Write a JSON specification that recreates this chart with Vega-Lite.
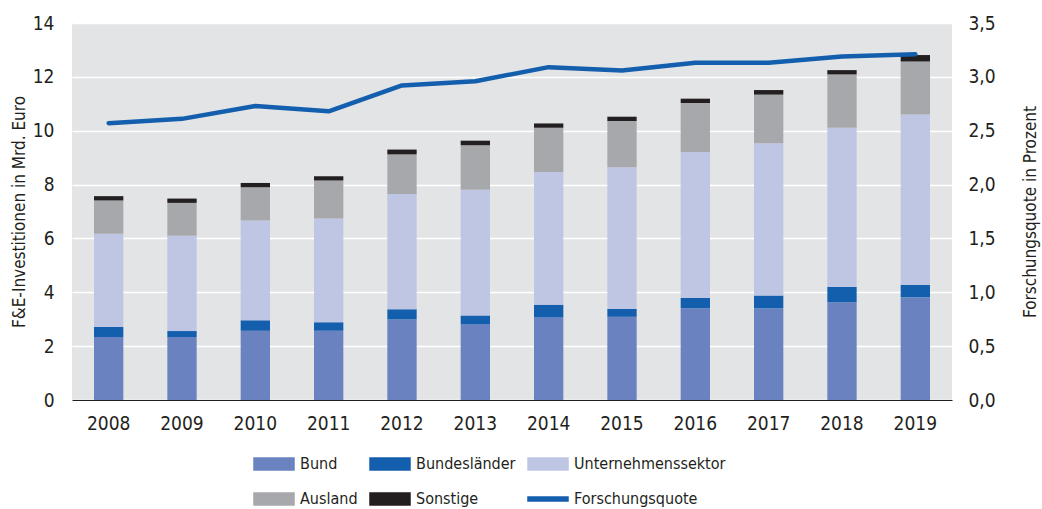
{
  "$schema": "https://vega.github.io/schema/vega-lite/v6.json",
  "autosize": {"type": "none"},
  "width": 880,
  "height": 377,
  "padding": {"left": 72, "top": 23, "right": 90, "bottom": 109},
  "background": "white",
  "config": {
    "view": {"fill": "#e3e4e6", "stroke": null},
    "font": "DejaVu Sans Condensed, Liberation Sans Narrow, Roboto",
    "axis": {"labelFont": "DejaVu Sans Condensed, Liberation Sans Narrow, Roboto", "titleFont": "DejaVu Sans Condensed, Liberation Sans Narrow, Roboto", "labelColor": "#231f20", "titleColor": "#231f20", "titleFontWeight": "normal"},
    "legend": {"labelFont": "DejaVu Sans Condensed, Liberation Sans Narrow, Roboto"}
  },
  "datasets": {
    "bars": [
      {"year": "2008", "quelle": "Bund", "rang": 1, "wert": 2.34},
      {"year": "2008", "quelle": "Bundesländer", "rang": 2, "wert": 0.37},
      {"year": "2008", "quelle": "Unternehmenssektor", "rang": 3, "wert": 3.46},
      {"year": "2008", "quelle": "Ausland", "rang": 4, "wert": 1.24},
      {"year": "2008", "quelle": "Sonstige", "rang": 5, "wert": 0.16},
      {"year": "2009", "quelle": "Bund", "rang": 1, "wert": 2.34},
      {"year": "2009", "quelle": "Bundesländer", "rang": 2, "wert": 0.22},
      {"year": "2009", "quelle": "Unternehmenssektor", "rang": 3, "wert": 3.54},
      {"year": "2009", "quelle": "Ausland", "rang": 4, "wert": 1.22},
      {"year": "2009", "quelle": "Sonstige", "rang": 5, "wert": 0.16},
      {"year": "2010", "quelle": "Bund", "rang": 1, "wert": 2.57},
      {"year": "2010", "quelle": "Bundesländer", "rang": 2, "wert": 0.39},
      {"year": "2010", "quelle": "Unternehmenssektor", "rang": 3, "wert": 3.71},
      {"year": "2010", "quelle": "Ausland", "rang": 4, "wert": 1.23},
      {"year": "2010", "quelle": "Sonstige", "rang": 5, "wert": 0.16},
      {"year": "2011", "quelle": "Bund", "rang": 1, "wert": 2.57},
      {"year": "2011", "quelle": "Bundesländer", "rang": 2, "wert": 0.32},
      {"year": "2011", "quelle": "Unternehmenssektor", "rang": 3, "wert": 3.85},
      {"year": "2011", "quelle": "Ausland", "rang": 4, "wert": 1.41},
      {"year": "2011", "quelle": "Sonstige", "rang": 5, "wert": 0.16},
      {"year": "2012", "quelle": "Bund", "rang": 1, "wert": 2.99},
      {"year": "2012", "quelle": "Bundesländer", "rang": 2, "wert": 0.38},
      {"year": "2012", "quelle": "Unternehmenssektor", "rang": 3, "wert": 4.28},
      {"year": "2012", "quelle": "Ausland", "rang": 4, "wert": 1.47},
      {"year": "2012", "quelle": "Sonstige", "rang": 5, "wert": 0.18},
      {"year": "2013", "quelle": "Bund", "rang": 1, "wert": 2.81},
      {"year": "2013", "quelle": "Bundesländer", "rang": 2, "wert": 0.33},
      {"year": "2013", "quelle": "Unternehmenssektor", "rang": 3, "wert": 4.67},
      {"year": "2013", "quelle": "Ausland", "rang": 4, "wert": 1.65},
      {"year": "2013", "quelle": "Sonstige", "rang": 5, "wert": 0.17},
      {"year": "2014", "quelle": "Bund", "rang": 1, "wert": 3.07},
      {"year": "2014", "quelle": "Bundesländer", "rang": 2, "wert": 0.47},
      {"year": "2014", "quelle": "Unternehmenssektor", "rang": 3, "wert": 4.93},
      {"year": "2014", "quelle": "Ausland", "rang": 4, "wert": 1.64},
      {"year": "2014", "quelle": "Sonstige", "rang": 5, "wert": 0.16},
      {"year": "2015", "quelle": "Bund", "rang": 1, "wert": 3.09},
      {"year": "2015", "quelle": "Bundesländer", "rang": 2, "wert": 0.29},
      {"year": "2015", "quelle": "Unternehmenssektor", "rang": 3, "wert": 5.26},
      {"year": "2015", "quelle": "Ausland", "rang": 4, "wert": 1.72},
      {"year": "2015", "quelle": "Sonstige", "rang": 5, "wert": 0.16},
      {"year": "2016", "quelle": "Bund", "rang": 1, "wert": 3.40},
      {"year": "2016", "quelle": "Bundesländer", "rang": 2, "wert": 0.39},
      {"year": "2016", "quelle": "Unternehmenssektor", "rang": 3, "wert": 5.42},
      {"year": "2016", "quelle": "Ausland", "rang": 4, "wert": 1.82},
      {"year": "2016", "quelle": "Sonstige", "rang": 5, "wert": 0.16},
      {"year": "2017", "quelle": "Bund", "rang": 1, "wert": 3.40},
      {"year": "2017", "quelle": "Bundesländer", "rang": 2, "wert": 0.48},
      {"year": "2017", "quelle": "Unternehmenssektor", "rang": 3, "wert": 5.65},
      {"year": "2017", "quelle": "Ausland", "rang": 4, "wert": 1.81},
      {"year": "2017", "quelle": "Sonstige", "rang": 5, "wert": 0.17},
      {"year": "2018", "quelle": "Bund", "rang": 1, "wert": 3.63},
      {"year": "2018", "quelle": "Bundesländer", "rang": 2, "wert": 0.57},
      {"year": "2018", "quelle": "Unternehmenssektor", "rang": 3, "wert": 5.91},
      {"year": "2018", "quelle": "Ausland", "rang": 4, "wert": 1.98},
      {"year": "2018", "quelle": "Sonstige", "rang": 5, "wert": 0.16},
      {"year": "2019", "quelle": "Bund", "rang": 1, "wert": 3.81},
      {"year": "2019", "quelle": "Bundesländer", "rang": 2, "wert": 0.47},
      {"year": "2019", "quelle": "Unternehmenssektor", "rang": 3, "wert": 6.32},
      {"year": "2019", "quelle": "Ausland", "rang": 4, "wert": 1.97},
      {"year": "2019", "quelle": "Sonstige", "rang": 5, "wert": 0.24}
    ],
    "quote": [
      {"year": "2008", "quote": 2.57},
      {"year": "2009", "quote": 2.61},
      {"year": "2010", "quote": 2.73},
      {"year": "2011", "quote": 2.68},
      {"year": "2012", "quote": 2.92},
      {"year": "2013", "quote": 2.96},
      {"year": "2014", "quote": 3.09},
      {"year": "2015", "quote": 3.06},
      {"year": "2016", "quote": 3.13},
      {"year": "2017", "quote": 3.13},
      {"year": "2018", "quote": 3.19},
      {"year": "2019", "quote": 3.21}
    ]
  },
  "encoding": {
    "x": {
      "field": "year", "type": "nominal",
      "scale": {"paddingInner": 0.6, "paddingOuter": 0.3},
      "axis": {"title": null, "labelAngle": 0, "labelFontSize": 19, "labelPadding": 14, "ticks": false, "domain": true, "domainColor": "#231f20", "domainWidth": 1.2, "grid": false}
    }
  },
  "layer": [
    {
      "data": {"name": "bars"},
      "mark": {"type": "bar"},
      "encoding": {
        "y": {
          "field": "wert", "type": "quantitative", "stack": "zero",
          "scale": {"domain": [0, 14], "nice": false},
          "axis": {"title": "F&E-Investitionen in Mrd. Euro", "titleFontSize": 17, "titlePadding": 4, "values": [0, 2, 4, 6, 8, 10, 12, 14], "format": "d", "labelFontSize": 19, "labelPadding": 18, "ticks": false, "domain": false, "grid": true, "gridColor": "white", "gridWidth": 1.5}
        },
        "color": {
          "field": "quelle", "type": "nominal",
          "scale": {
            "domain": ["Bund", "Bundesländer", "Unternehmenssektor", "Ausland", "Sonstige", "Forschungsquote"],
            "range": ["#6a83c0", "#135fad", "#bec6e3", "#a7a8ab", "#231f20", "#135fad"]
          },
          "legend": {
            "title": null,
            "orient": "none",
            "legendX": 181,
            "legendY": 420,
            "direction": "horizontal",
            "columns": 3,
            "labelFontSize": 16,
            "labelColor": "#231f20",
            "labelOffset": 5,
            "labelLimit": 300,
            "symbolSize": 1600,
            "columnPadding": 9,
            "rowPadding": 5,
            "encode": {
              "symbols": {
                "update": {
                  "shape": {"signal": "datum.value === 'Forschungsquote' ? 'M-1,-0.1H1V0.1H-1Z' : 'M-1,-0.3H1V0.3H-1Z'"},
                  "fill": {"scale": "color", "field": "value"},
                  "stroke": {"value": "transparent"},
                  "opacity": {"value": 1}
                }
              }
            }
          }
        },
        "order": {"field": "rang", "type": "quantitative", "sort": "ascending"}
      }
    },
    {
      "data": {"name": "quote"},
      "mark": {"type": "line", "strokeWidth": 4.5, "strokeCap": "round", "strokeJoin": "round"},
      "encoding": {
        "y": {
          "field": "quote", "type": "quantitative",
          "scale": {"domain": [0, 3.5], "nice": false},
          "axis": {"orient": "right", "title": "Forschungsquote in Prozent", "titleAngle": 270, "titleFontSize": 17, "titlePadding": 44, "values": [0, 0.5, 1, 1.5, 2, 2.5, 3, 3.5], "labelExpr": "replace(format(datum.value, '.1f'), '.', ',')", "labelFontSize": 19, "labelPadding": 16, "ticks": false, "domain": false, "grid": false}
        },
        "color": {"datum": "Forschungsquote", "type": "nominal"}
      }
    }
  ],
  "resolve": {"scale": {"y": "independent"}}
}
